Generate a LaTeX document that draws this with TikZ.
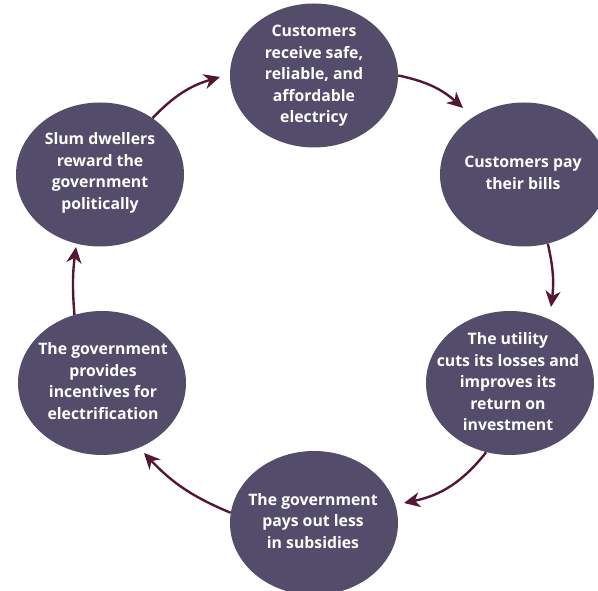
\documentclass[tikz,border=0pt]{standalone}
\usepackage{fontspec}
\setmainfont{Open Sans}
\usetikzlibrary{shapes.geometric,arrows.meta}
\definecolor{ovalfill}{RGB}{83,76,106}
\definecolor{arrowcol}{RGB}{84,22,52}
\begin{document}
\begin{tikzpicture}[x=1pt,y=1pt,
  oval/.style={ellipse, fill=ovalfill, minimum width=168pt, minimum height=144pt, inner sep=0pt},
  ovaltext/.style={text=white, font=\bfseries\fontsize{15.8}{21.5}\selectfont, align=center, inner sep=0pt},
  arr/.style={draw=arrowcol, line width=2.4pt, -{Stealth[length=16pt,width=15pt,inset=5pt]}}]
\clip (0,0) rectangle (598,591);
\node[oval] (e1) at (314,515.5) {};
\node[oval] (e2) at (524,416.5) {};
\node[oval] (e3) at (510,208) {};
\node[oval] (e4) at (314,68) {};
\node[oval] (e5) at (102,208) {};
\node[oval] (e6) at (100,416.5) {};
\node[ovaltext] (l1) at (314,515) {Customers\\receive safe,\\reliable, and\\affordable\\electricy};
\node[ovaltext] (l2) at (523,418) {Customers pay\\their bills};
\node[ovaltext] (l3) at (508,209) {The utility\\cuts its losses and\\improves its\\return on\\investment};
\node[ovaltext] (l4) at (313,70) {The government\\pays out less\\in subsidies};
\node[ovaltext] (l5) at (103,210) {The government\\provides\\incentives for\\electrification};
\node[ovaltext] (l6) at (100,418) {Slum dwellers\\reward the\\government\\politically};
\path (e2.center) ++(-61,66.5) coordinate (t1);
\path (e3.center) ++(41,76) coordinate (t2);
\path (e4.center) ++(90,20) coordinate (t3);
\path (e5.center) ++(42,-70) coordinate (t4);
\path (e6.center) ++(-24,-72.5) coordinate (t5);
\path (e1.center) ++(-94,-1.5) coordinate (t6);
\draw[arr] (e1.east) to[bend left=15] (t1);
\draw[arr] (e2.-71) to[bend left=10] (t2);
\draw[arr] (e3.-109) to[bend left=20] (t3);
\draw[arr] (e4.173) to[bend left=12] (t4);
\draw[arr] (e5.112) to[bend left=6] (t5);
\draw[arr] (e6.47) to[bend left=15] (t6);
\end{tikzpicture}
\end{document}
